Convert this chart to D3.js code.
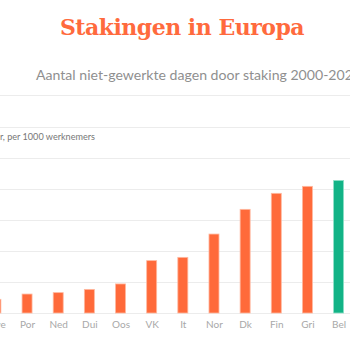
<!DOCTYPE html>
<html><head><meta charset="utf-8">
<script src="https://cdn.jsdelivr.net/npm/d3@7"></script>
<style>html,body{margin:0;padding:0;background:#fff;overflow:hidden}</style>
</head><body>
<svg id="c" width="350" height="350"></svg>
<script>
const categories = ["Zwe","Por","Ned","Dui","Oos","VK","It","Nor","Dk","Fin","Gri","Bel"];
const values = [8.8,12.2,13.1,15.2,18.7,33.7,35.8,50.8,66.7,77.0,81.5,85.3];
const highlight = ["Bel"];
const yTicks = [0,20,40,60,80,100,120];
const title = "Stakingen in Europa";
const subtitle = "Aantal niet-gewerkte dagen door staking 2000-2020";
const axisLabel = "Gemiddeld per jaar, per 1000 werknemers";

const svg = d3.select("#c");
const W = 350;
const y = d3.scaleLinear().domain([0,120]).range([313,126.5]);
const x = d3.scalePoint().domain(categories).range([-4.1, 338.6]);
const bw = 10;

svg.append("text").attr("x",182).attr("y",35).attr("text-anchor","middle")
  .attr("font-family","'DejaVu Serif', serif").attr("font-weight","bold")
  .attr("font-size",22).attr("fill","#ff6a3d").attr("letter-spacing","-0.5").text(title);

svg.append("text").attr("x",36).attr("y",80)
  .attr("font-family","Lato, sans-serif").attr("font-size",14.1).attr("fill","#8f8f8f").text(subtitle);

svg.append("line").attr("x1",0).attr("x2",W).attr("y1",95.5).attr("y2",95.5)
  .attr("stroke","#ececec").attr("stroke-width",1);

const grid = svg.append("g");
grid.selectAll("line").data(yTicks).join("line")
  .attr("x1",0).attr("x2",W)
  .attr("y1",d=>Math.round(y(d))+0.5).attr("y2",d=>Math.round(y(d))+0.5)
  .attr("stroke","#ececec").attr("stroke-width",1);

svg.append("text").attr("x",95).attr("y",140).attr("text-anchor","end")
  .attr("font-family","Lato, sans-serif").attr("font-size",9.1).attr("fill","#777").text(axisLabel);

svg.append("g").selectAll("rect").data(categories).join("rect")
  .attr("x",d=>x(d)-bw/2).attr("width",bw)
  .attr("y",(d,i)=>y(values[i])).attr("height",(d,i)=>y(0)-y(values[i]))
  .attr("fill",d=>highlight.includes(d)?"#12b386":"#ff6a3a")
  .attr("stroke",d=>highlight.includes(d)?"#8fe0c8":"#ffb9a0").attr("stroke-width",0.8);

const xa = d3.axisBottom(x).tickSize(0).tickPadding(8);
const g = svg.append("g").attr("transform","translate(0,313)").call(xa);
g.select(".domain").remove();
g.selectAll("text").attr("font-family","Lato, sans-serif").attr("font-size",10).attr("fill","#a8a8a8");
</script>
</body></html>
